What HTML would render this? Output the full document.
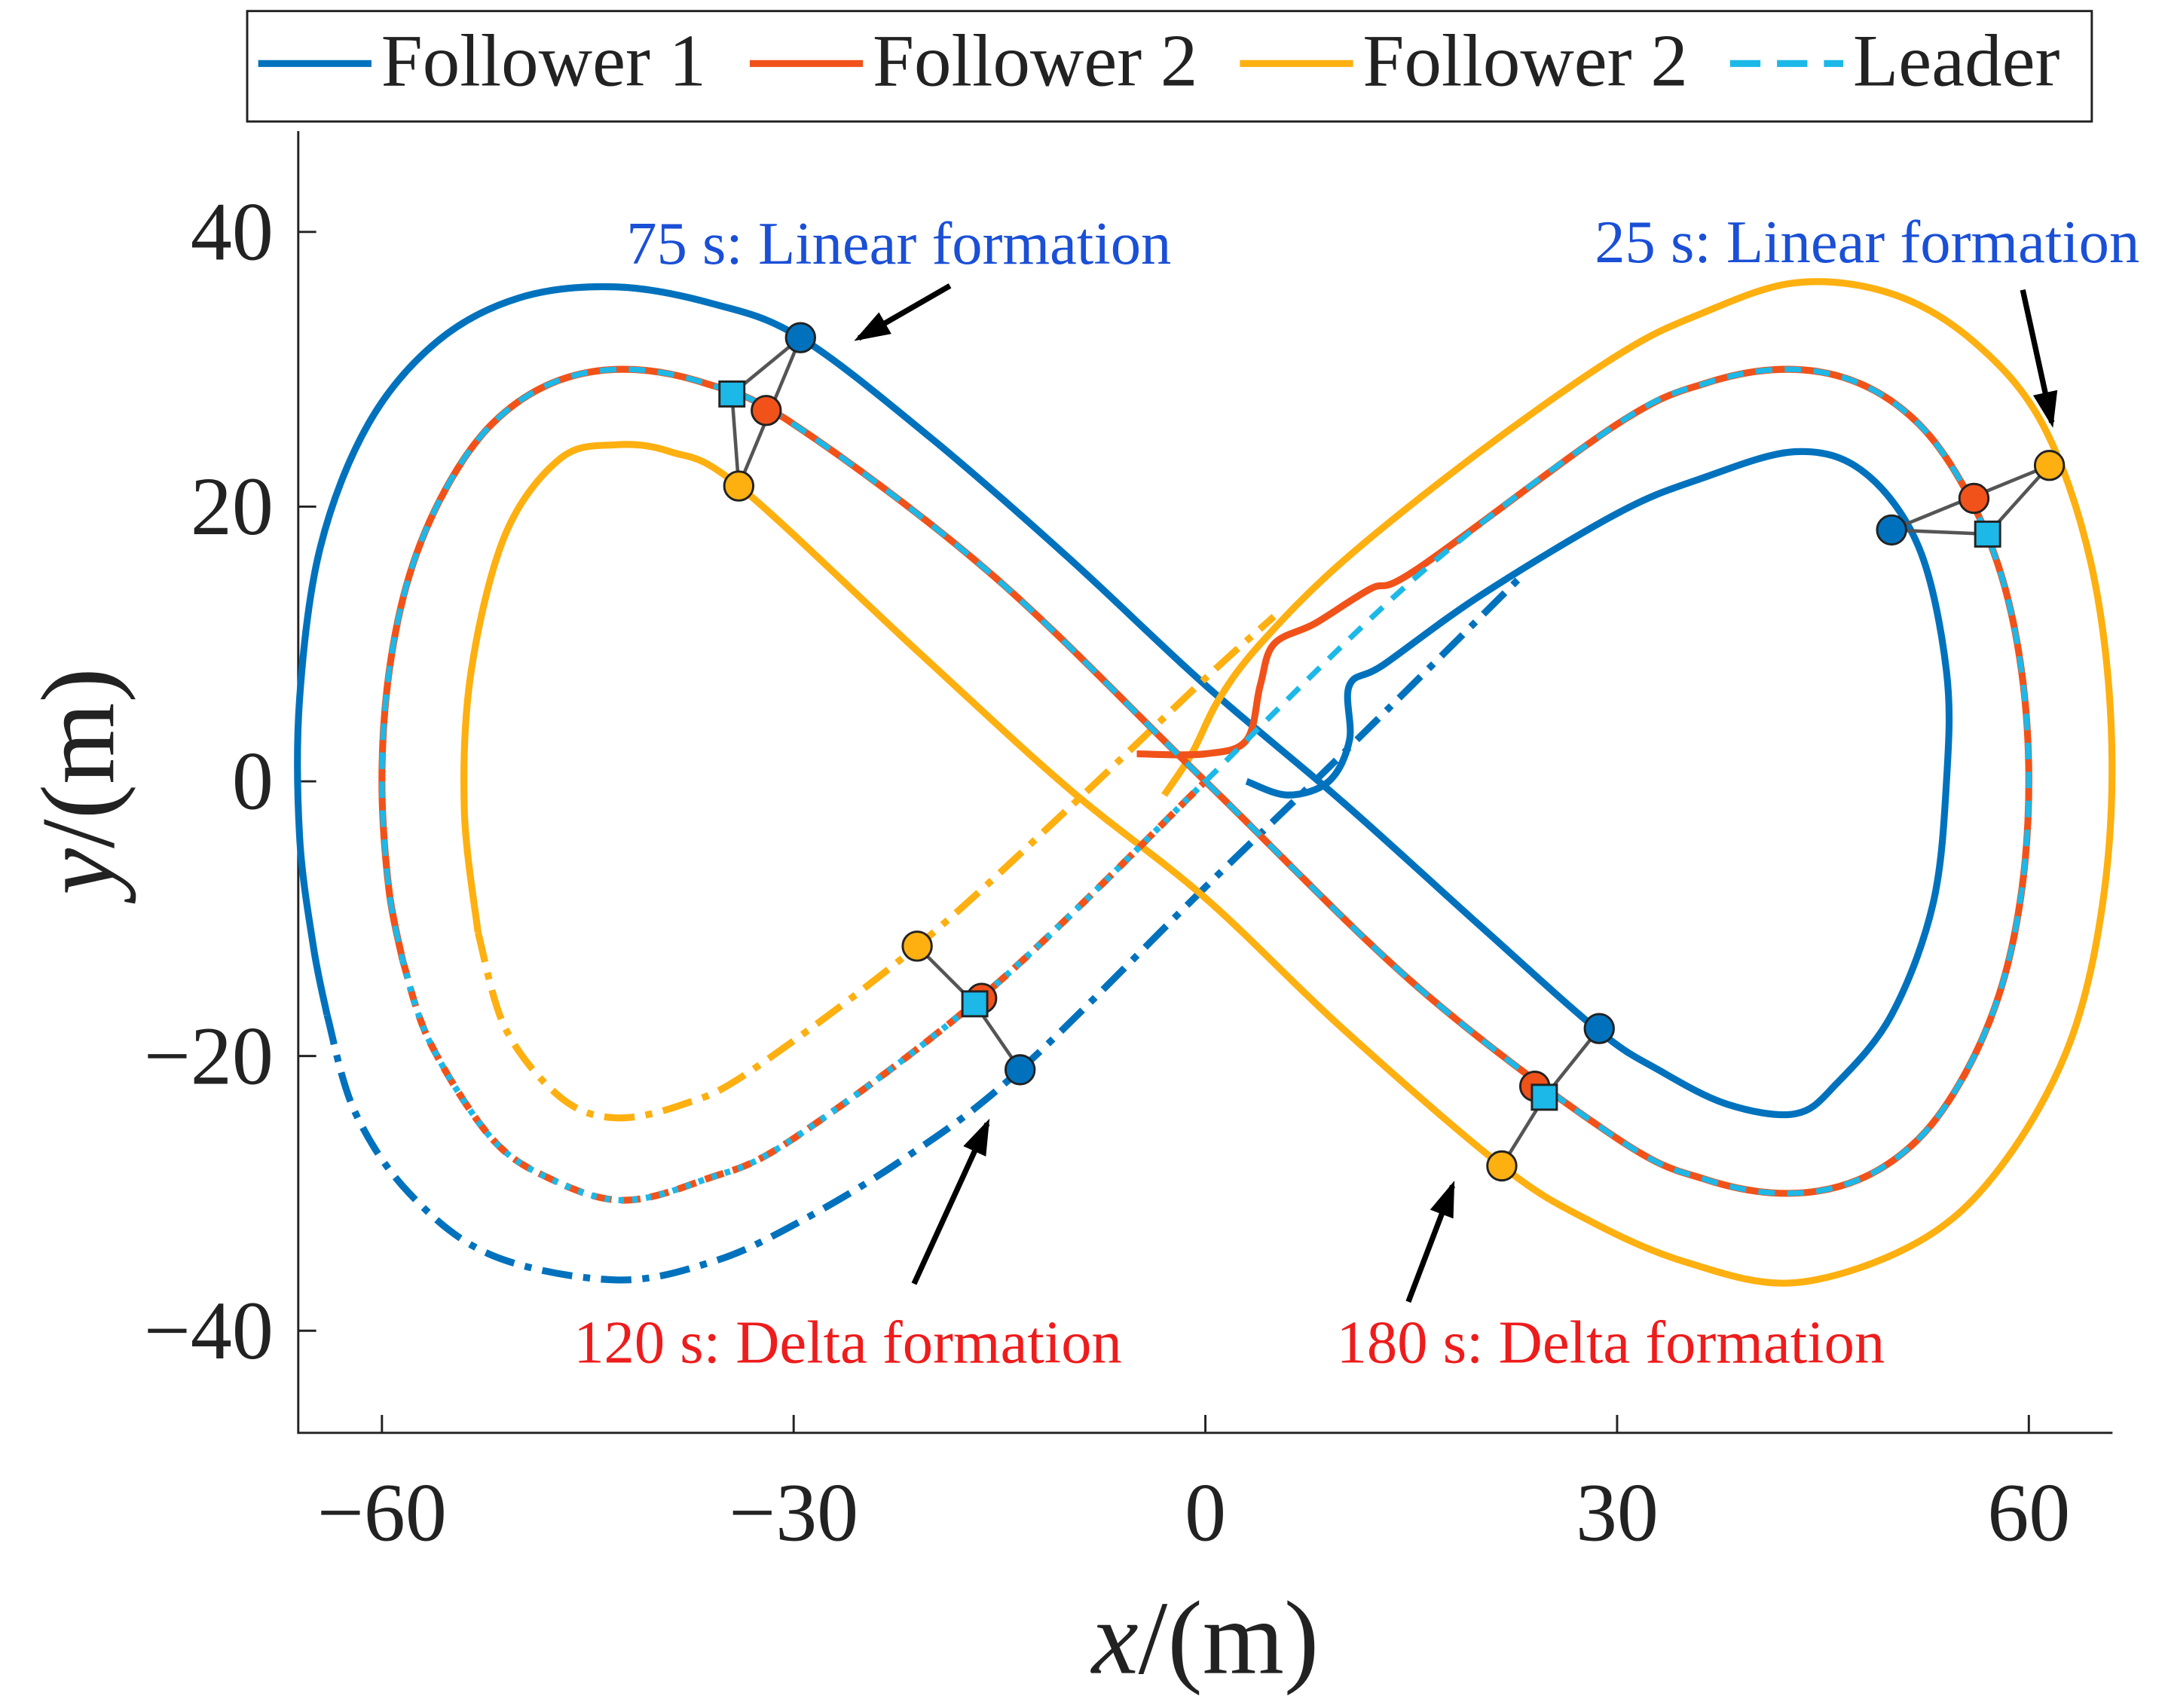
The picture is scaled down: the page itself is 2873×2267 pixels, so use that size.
<!DOCTYPE html>
<html><head><meta charset="utf-8"><style>
html,body{margin:0;padding:0;background:#fff}
svg{display:block}
text{font-family:"Liberation Serif",serif}
</style></head><body>
<svg id="chart" width="2873" height="2267" viewBox="0 0 1568 1237.3" xmlns="http://www.w3.org/2000/svg">
<g id="plot"></g>
</svg>
<script>
// ---- data (metres) ----
const xTicks = [-60, -30, 0, 30, 60];
const yTicks = [-40, -20, 0, 20, 40];
const leaderPts = [[0,0],[15.5,15],[30,26],[36.5,29],[42.4,30],[47.6,29],[52,26],[55.4,21.2],[58,15],[59.5,7.8],[60,0],[59.5,-7.8],[58,-15],[55.4,-21.2],[52,-26],[47.6,-29],[42.4,-30],[36.5,-29],[30,-26],[15.5,-15],[0,0],[-15.5,15],[-30,26],[-36.5,29],[-42.4,30],[-47.6,29],[-52,26],[-55.4,21.2],[-58,15],[-59.5,7.8],[-60,0],[-59.5,-7.8],[-58.5,-13]];
const leaderDashB = [[-58.5,-13],[-56.5,-19],[-52,-26],[-47.6,-29],[-42.4,-30.5],[-36.5,-29],[-30,-26],[-15.5,-15],[0,0]];
const redPts = [[-5,2],[0,2],[3,3],[4,7],[5,10],[8,11.5],[12,14],[15.5,15.5],[30,26],[36.5,29],[42.4,30],[47.6,29],[52,26],[55.4,21.2],[58,15],[59.5,7.8],[60,0],[59.5,-7.8],[58,-15],[55.4,-21.2],[52,-26],[47.6,-29],[42.4,-30],[36.5,-29],[30,-26],[15.5,-15],[0,0],[-15.5,15],[-30,26],[-36.5,29],[-42.4,30],[-47.6,29],[-52,26],[-55.4,21.2],[-58,15],[-59.5,7.8],[-60,0],[-59.5,-7.8],[-58.5,-13]];
const redDash = [[-58.5,-13],[-56.5,-19],[-52,-26],[-47.6,-29],[-42.4,-30.5],[-36.5,-29],[-30,-26],[-15.5,-15],[0,0]];
const blueSolid = [[3,0],[6,-1],[9,0],[10.5,3],[10.5,7],[13,8.5],[20,13.5],[30,19.5],[36,22],[43,24],[48,22.5],[52,17],[54,8],[54,0],[53,-9],[50,-17],[46,-22],[43,-24.2],[38,-23.5],[33,-21],[28.7,-18.2],[20,-10.5],[10,-1.5],[0,7],[-10,16.3],[-20,25],[-29.5,32.3],[-36,34.8],[-43,36],[-50,35.2],[-56,32],[-61,26],[-64.5,17],[-66,6],[-66,-4],[-65,-12],[-64,-17]];
const blueDash = [[-64,-17],[-62,-24],[-58,-30],[-52,-34.5],[-43,-36.3],[-36,-35],[-30,-32.3],[-22,-27.5],[-13.6,-21.1],[0,-7.7],[10,2],[22.8,14.7]];
const yellowSolid = [[-3,-1],[-1,2],[1,6],[4,10],[10,16],[20,24],[30,31],[36,34],[43,36.3],[50,35.5],[56,32],[61,26],[64.5,16],[66,4],[65.5,-8],[63,-19],[58,-28],[52,-33.5],[43,-36.5],[35,-35],[28,-32],[21.6,-28],[10,-18],[0,-8.5],[-10,-0.5],[-21,9.5],[-34,21.5],[-39,24],[-43,24.5],[-47,23.5],[-51,18],[-53.5,8],[-54,-2],[-53,-11]];
const yellowDash = [[-53,-11],[-51,-18],[-47,-23],[-43,-24.5],[-38,-23.5],[-33,-21],[-21,-12],[-10,-2],[0,7.5],[5,12]];
const mk75 = {blue:[-29.5,32.3],red:[-32,27],leader:[-34.5,28.2],yellow:[-34,21.5]};
const mk25 = {blue:[50,18.3],red:[56,20.6],leader:[57,18],yellow:[61.5,23]};
const mk120 = {blue:[-13.5,-21],red:[-16.3,-15.8],leader:[-16.8,-16.2],yellow:[-21,-12]};
const mk180 = {blue:[28.7,-18],red:[24,-22.2],leader:[24.7,-23],yellow:[21.6,-28]};

// ---- axes ----
const X0=873, XS=9.94, Y0=566, YS=9.95;
const sx = v => X0 + v*XS;
const sy = v => Y0 - v*YS;
const NS="http://www.w3.org/2000/svg";
const plot=document.getElementById('plot');
function el(tag, attrs, parent){const e=document.createElementNS(NS,tag);for(const k in attrs)e.setAttribute(k,attrs[k]);(parent||plot).appendChild(e);return e;}
function smooth(pts){
  const p=pts.map(q=>[sx(q[0]),sy(q[1])]);
  let d='M'+p[0][0]+','+p[0][1];
  for(let i=0;i<p.length-1;i++){
    const p0=p[Math.max(0,i-1)],p1=p[i],p2=p[i+1],p3=p[Math.min(p.length-1,i+2)];
    const c1=[p1[0]+(p2[0]-p0[0])/6,p1[1]+(p2[1]-p0[1])/6];
    const c2=[p2[0]-(p3[0]-p1[0])/6,p2[1]-(p3[1]-p1[1])/6];
    d+=' C'+c1[0]+','+c1[1]+' '+c2[0]+','+c2[1]+' '+p2[0]+','+p2[1];
  }
  return d;
}
const C={blue:'#0072BD',red:'#F0521A',yellow:'#FDB010',cyan:'#1CB8E8'};

let a=el('path',{d:'M216,95 L216,1038 L1530,1038',fill:'none',stroke:'#222','stroke-width':1.6});


xTicks.forEach(t=>{
  const tk=el('line',{x1:sx(t),x2:sx(t),y1:1038,y2:1025,stroke:'#222','stroke-width':1.6});
  
  
  const tl=el('text',{x:sx(t),y:1116,'font-size':60,'text-anchor':'middle',fill:'#222'});
  tl.textContent=t<0?'\u2212'+(-t):String(t);
  
  
});
yTicks.forEach(t=>{
  const tk=el('line',{x1:216,x2:229,y1:sy(t),y2:sy(t),stroke:'#222','stroke-width':1.6});
  
  
  const tl=el('text',{x:198,y:sy(t)+20,'font-size':60,'text-anchor':'end',fill:'#222'});
  tl.textContent=t<0?'\u2212'+(-t):String(t);
  
  
});
let xl=el('text',{x:873,y:1212,'font-size':76,'text-anchor':'middle',fill:'#222'});
xl.innerHTML='<tspan font-style="italic">x</tspan>/(m)';


let yl=el('text',{x:0,y:0,'font-size':76,'text-anchor':'middle',fill:'#222',transform:'translate(82,566) rotate(-90)'});
yl.innerHTML='<tspan font-style="italic">y</tspan>/(m)';



function line(pts,color,dash,name,w){
  const p=el('path',{d:smooth(pts),fill:'none',stroke:color,'stroke-width':w||5,'stroke-linejoin':'round'});
  if(dash)p.setAttribute('stroke-dasharray',dash);
  
  
}
line(blueSolid,C.blue,null,'follower1-line');
line(blueDash,C.blue,'22,8,5,8','follower1-dashdot-line');
line(yellowSolid,C.yellow,null,'follower3-line');
line(yellowDash,C.yellow,'22,8,5,8','follower3-dashdot-line');
line(redPts,C.red,null,'follower2-line');
line(redDash,C.red,'14,7','follower2-dashed-line');
line(leaderPts,C.cyan,'12,9','leader-line',4);
line(leaderDashB,C.cyan,'4,6','leader-dotted-line',4.5);

function formation(m,name,links){
  links.forEach(l=>{
    const ln=el('line',{x1:sx(m[l[0]][0]),y1:sy(m[l[0]][1]),x2:sx(m[l[1]][0]),y2:sy(m[l[1]][1]),stroke:'#555','stroke-width':2.5});
    
    
  });
  [['blue',C.blue],['red',C.red],['yellow',C.yellow]].forEach(([k,c])=>{
    const ci=el('circle',{cx:sx(m[k][0]),cy:sy(m[k][1]),r:10.5,fill:c,stroke:'#222','stroke-width':1.6});
    
    
  });
  const r=el('rect',{x:sx(m.leader[0])-9,y:sy(m.leader[1])-9,width:18,height:18,fill:C.cyan,stroke:'#222','stroke-width':1.6});
  
  
}
formation(mk75,'formation-75s',[['leader','blue'],['leader','yellow'],['blue','yellow']]);
formation(mk25,'formation-25s',[['blue','yellow'],['blue','leader'],['leader','yellow']]);
formation(mk120,'formation-120s',[['yellow','leader'],['leader','blue']]);
formation(mk180,'formation-180s',[['blue','leader'],['leader','yellow']]);

function arrow(x1,y1,x2,y2,name){
  const ar=el('line',{x1,y1,x2,y2,stroke:'#000','stroke-width':4});
  
  
  const dx=x2-x1,dy=y2-y1,L=Math.hypot(dx,dy),ux=dx/L,uy=dy/L,h=22,w=9;
  const hd=el('polygon',{points:[x2+ux*4,y2+uy*4,x2-ux*h-uy*w,y2-uy*h+ux*w,x2-ux*h+uy*w,y2-uy*h-ux*w].join(','),fill:'#000'});
  
  
}
arrow(688,207,622,245,'arrow-75s');
arrow(1465,210,1486,306,'arrow-25s');
arrow(662,930,715,814,'arrow-120s');
arrow(1020,943,1052,859,'arrow-180s');
function label(x,y,t,c,anchor,name){
  const tx=el('text',{x,y,'font-size':44,fill:c,'text-anchor':anchor});
  tx.textContent=t;
  
  
}
label(651,191,'75 s: Linear formation','#1a4fd6','middle','label-75s');
label(1155,190,'25 s: Linear formation','#1a4fd6','start','label-25s');
label(614,987,'120 s: Delta formation','#ee1c1c','middle','label-120s');
label(968,987,'180 s: Delta formation','#ee1c1c','start','label-180s');

const lg=el('g',{});


el('rect',{x:179,y:8,width:1336,height:80,fill:'#fff',stroke:'#222','stroke-width':1.6},lg);
const legNames=['Follower 1','Follower 2','Follower 2','Leader'];
const legColors=[C.blue,C.red,C.yellow,C.cyan];
const legX=[187,543,898,1253];
legNames.forEach((n,i)=>{
  const s=el('line',{x1:legX[i],x2:legX[i]+82,y1:46,y2:46,stroke:legColors[i],'stroke-width':5},lg);
  if(i===3)s.setAttribute('stroke-dasharray','22,12');
  
  
  const t=el('text',{x:legX[i]+89,y:62,'font-size':54,fill:'#222'},lg);
  t.textContent=n;
  
  
});
</script>
</body></html>
